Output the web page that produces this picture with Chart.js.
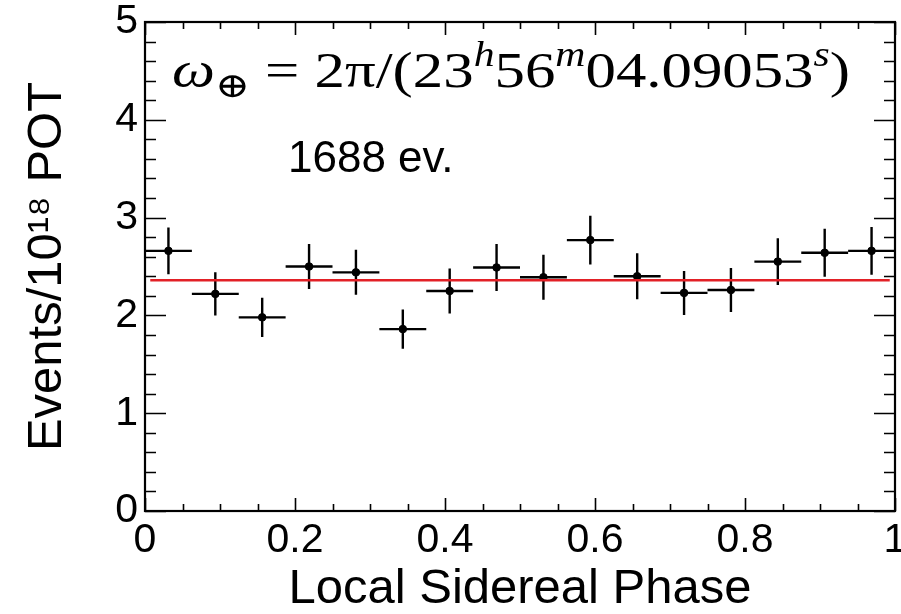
<!DOCTYPE html>
<html>
<head>
<meta charset="utf-8">
<script src="https://cdn.jsdelivr.net/npm/chart.js@4.4.1/dist/chart.umd.min.js"></script>
<style>
html, body { margin: 0; padding: 0; background: #ffffff; }
canvas { display: block; }
</style>
</head>
<body>
<canvas id="c" width="901" height="614"></canvas>
<script>
// ---- data ----
const phaseBinCenters = [0.03125, 0.09375, 0.15625, 0.21875, 0.28125, 0.34375, 0.40625, 0.46875,
                         0.53125, 0.59375, 0.65625, 0.71875, 0.78125, 0.84375, 0.90625, 0.96875];
const binHalfWidth = 0.03125;
const eventsPer1e18POT = [2.66, 2.22, 1.98, 2.50, 2.44, 1.86, 2.25, 2.49,
                          2.39, 2.77, 2.40, 2.23, 2.26, 2.55, 2.64, 2.66];
const statErrors = [0.24, 0.22, 0.20, 0.23, 0.23, 0.20, 0.23, 0.24,
                    0.23, 0.25, 0.235, 0.225, 0.225, 0.24, 0.245, 0.245];
const fitLevel = 2.36;
const fitRange = [0.007, 0.993];
const xMajorTicks = [0, 0.2, 0.4, 0.6, 0.8, 1];
const yMajorTicks = [0, 1, 2, 3, 4, 5];
const xTitle = 'Local Sidereal Phase';
const yTitle = 'Events/10\u00B9\u2078 POT';
const eventCountLabel = '1688 ev.';
const formulaParts = [
  { t: '\u03C9', style: 'italic', size: 'big', pos: 'base' },
  { t: '\u2295', style: 'normal', size: 'small', pos: 'sub' },
  { t: ' = ', style: 'normal', size: 'big', pos: 'base' },
  { t: '2\u03C0/(23', style: 'normal', size: 'big', pos: 'base' },
  { t: 'h', style: 'italic', size: 'small', pos: 'sup' },
  { t: '56', style: 'normal', size: 'big', pos: 'base' },
  { t: 'm', style: 'italic', size: 'small', pos: 'sup' },
  { t: '04.09053', style: 'normal', size: 'big', pos: 'base' },
  { t: 's', style: 'italic', size: 'small', pos: 'sup' },
  { t: ')', style: 'normal', size: 'big', pos: 'base' }
];

const SANS = '"Liberation Sans", Arial, Helvetica, sans-serif';
const SERIF = '"Liberation Serif", "DejaVu Serif", serif';

// error bars (drawn through the chart scales)
const errorBarsPlugin = {
  id: 'errorBars',
  beforeDatasetsDraw(chart) {
    const { ctx, scales: { x, y } } = chart;
    ctx.save();
    ctx.strokeStyle = '#000';
    ctx.lineWidth = 2.4;
    ctx.lineCap = 'butt';
    phaseBinCenters.forEach((c, i) => {
      const v = eventsPer1e18POT[i], e = statErrors[i];
      const px = x.getPixelForValue(c), py = y.getPixelForValue(v);
      ctx.beginPath();
      ctx.moveTo(x.getPixelForValue(c - binHalfWidth), py);
      ctx.lineTo(x.getPixelForValue(c + binHalfWidth), py);
      ctx.moveTo(px, y.getPixelForValue(v + e));
      ctx.lineTo(px, y.getPixelForValue(v - e));
      ctx.stroke();
    });
    ctx.restore();
  }
};

// ROOT-style frame with inward ticks on all four sides
const frameTicksPlugin = {
  id: 'frameTicks',
  afterDatasetsDraw(chart) {
    const { ctx, chartArea: a, scales: { x, y } } = chart;
    ctx.save();
    ctx.strokeStyle = '#000';
    ctx.lineWidth = 1.6;
    const xTick = (v, len) => {
      const px = Math.round(x.getPixelForValue(v)) + 0.5;
      ctx.moveTo(px, a.bottom); ctx.lineTo(px, a.bottom - len);
      ctx.moveTo(px, a.top); ctx.lineTo(px, a.top + len);
    };
    const yTick = (v, len) => {
      const py = Math.round(y.getPixelForValue(v)) + 0.5;
      ctx.moveTo(a.left, py); ctx.lineTo(a.left + len, py);
      ctx.moveTo(a.right, py); ctx.lineTo(a.right - len, py);
    };
    ctx.beginPath();
    xMajorTicks.forEach(v => xTick(v, 13));
    for (let i = 0; i < xMajorTicks.length - 1; i++) {
      const s = (xMajorTicks[i + 1] - xMajorTicks[i]) / 4;
      for (let k = 1; k < 4; k++) xTick(xMajorTicks[i] + k * s, 7);
    }
    yMajorTicks.forEach(v => yTick(v, 21));
    for (let i = 0; i < yMajorTicks.length - 1; i++) {
      const s = (yMajorTicks[i + 1] - yMajorTicks[i]) / 5;
      for (let k = 1; k < 5; k++) yTick(yMajorTicks[i] + k * s, 11);
    }
    ctx.stroke();
    ctx.lineWidth = 2.2;
    ctx.strokeRect(a.left, a.top, a.right - a.left, a.bottom - a.top);
    ctx.restore();
  }
};

// text annotations
const annotationPlugin = {
  id: 'annotations',
  afterDraw(chart) {
    const { ctx } = chart;
    ctx.save();
    ctx.fillStyle = '#000';
    ctx.textBaseline = 'alphabetic';
    ctx.textAlign = 'left';
    // formula
    const sizes = { big: 51, small: 35 };
    const baseY = { base: 87, sub: 97, sup: 66 };
    const font = p => `${p.style} ${sizes[p.size]}px ${SERIF}`;
    let total = 0;
    const widths = formulaParts.map(p => { ctx.font = font(p); const w = ctx.measureText(p.t).width; total += w; return w; });
    const x0 = 172, x1 = 850;
    const sc = (x1 - x0) / total;
    ctx.translate(x0, 0);
    ctx.scale(sc, 1);
    let cx = 0;
    formulaParts.forEach((p, i) => {
      ctx.font = font(p);
      ctx.fillText(p.t, cx, baseY[p.pos]);
      cx += widths[i];
    });
    ctx.setTransform(1, 0, 0, 1, 0, 0);
    // event count
    ctx.font = `44px ${SANS}`;
    ctx.fillText(eventCountLabel, 288, 172);
    ctx.restore();
  }
};

new Chart(document.getElementById('c'), {
  data: {
    datasets: [
      {
        type: 'line',
        data: fitRange.map(v => ({ x: v, y: fitLevel })),
        borderColor: 'rgb(226, 32, 38)',
        borderWidth: 2.5,
        pointRadius: 0,
        order: 0
      },
      {
        type: 'scatter',
        data: phaseBinCenters.map((c, i) => ({ x: c, y: eventsPer1e18POT[i] })),
        backgroundColor: '#000',
        borderColor: '#000',
        pointRadius: 3.8,
        order: 1
      }
    ]
  },
  options: {
    responsive: false,
    animation: false,
    events: [],
    layout: { padding: { left: 0, right: 6, top: 22, bottom: 0 } },
    plugins: { legend: { display: false }, tooltip: { enabled: false } },
    scales: {
      x: {
        type: 'linear',
        position: 'bottom',
        min: 0, max: 1,
        afterBuildTicks: s => { s.ticks = xMajorTicks.map(v => ({ value: v })); },
        afterFit: s => { s.height = 103; s.paddingLeft = 0; s.paddingRight = 0; },
        grid: { display: false, drawTicks: false },
        border: { display: false },
        ticks: {
          color: '#000', padding: 5, maxRotation: 0, autoSkip: false,
          font: { family: SANS, size: 41, lineHeight: 1.2 },
          callback: v => String(v)
        },
        title: {
          display: true, text: xTitle, color: '#000',
          font: { family: SANS, size: 49, lineHeight: 1 },
          padding: { top: 0, bottom: 0 }
        }
      },
      y: {
        type: 'linear',
        position: 'left',
        min: 0, max: 5,
        afterBuildTicks: s => { s.ticks = yMajorTicks.map(v => ({ value: v })); },
        afterFit: s => { s.width = 145; s.paddingTop = 0; s.paddingBottom = 0; },
        grid: { display: false, drawTicks: false },
        border: { display: false },
        ticks: {
          color: '#000', padding: 7,
          font: { family: SANS, size: 41, lineHeight: 1.2 },
          callback: v => String(v)
        },
        title: {
          display: true, text: yTitle, color: '#000',
          font: { family: SANS, size: 49, lineHeight: 1 },
          padding: { top: 23, bottom: 0 }
        }
      }
    }
  },
  plugins: [errorBarsPlugin, frameTicksPlugin, annotationPlugin]
});
</script>
</body>
</html>
